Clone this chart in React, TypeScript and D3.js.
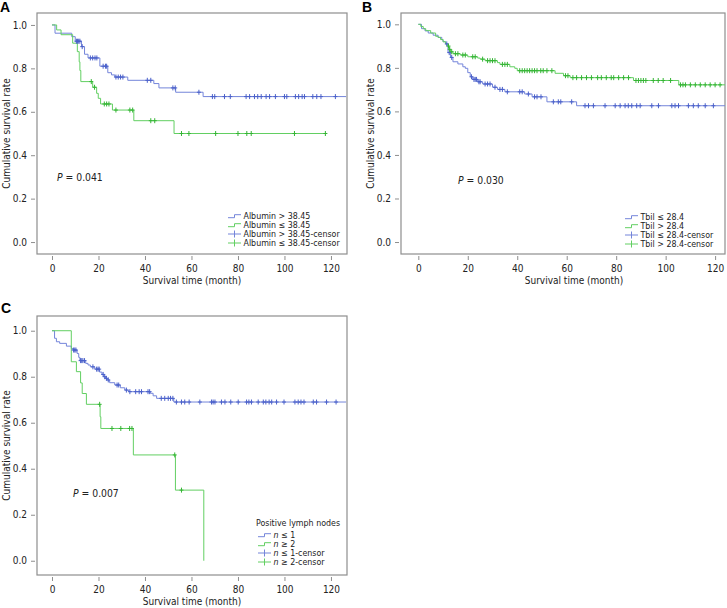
import { useRef, useEffect } from "react";
import * as d3 from "d3";

type Step = [number, number];

const X_TICKS = [0, 20, 40, 60, 80, 100, 120];
const Y_TICKS = [0, 0.2, 0.4, 0.6, 0.8, 1.0];

// Panel A - albumin
const albuminHighSteps: Step[] = [
  [0, 1], [1.3, 0.962], [8.5, 0.946], [10, 0.925], [12.7, 0.9], [14, 0.865], [15.5, 0.848],
  [20.6, 0.81], [24, 0.78], [25.6, 0.77], [27, 0.76], [32.6, 0.745], [43.8, 0.73], [46, 0.71],
  [53.2, 0.69], [65, 0.67],
];
const albuminHighEnd = 126.5;
const albuminHighCensor = [
  10.5, 11, 11.5, 12, 13, 16.5, 17.5, 18.5, 19.3, 22, 23, 23.5, 27.5, 28.5, 29.5, 30.5, 41, 42.5,
  52, 53, 63.2, 69, 70, 74.2, 76.7, 83.5, 85, 87.1, 88.5, 90, 92.1, 93.6, 96.1, 100, 101, 104.7,
  106.1, 107.6, 108.6, 112.2, 113.9, 115.7, 121.9,
];
const albuminLowSteps: Step[] = [
  [0, 1], [2, 0.977], [3.9, 0.955], [8.9, 0.916], [10.9, 0.877], [11.7, 0.83], [12, 0.79],
  [12.4, 0.739], [17.5, 0.713], [19.2, 0.685], [19.9, 0.662], [20.9, 0.636], [26, 0.608],
  [35.2, 0.559], [52.5, 0.5],
];
const albuminLowEnd = 118;
const albuminLowCensor = [
  16.9, 18.3, 22.5, 23.5, 24.5, 27.5, 33.5, 34.7, 42.5, 44.2, 55.7, 58.9, 70.4, 80, 83.8, 85.7,
  104.3, 117.6,
];

// Panel B - Tbil
const tbilLowSteps: Step[] = [
  [0, 1], [1.3, 0.98], [2.7, 0.97], [4, 0.96], [6, 0.95], [8, 0.94], [9.5, 0.93], [10, 0.92],
  [11, 0.91], [12, 0.87], [13, 0.848], [14, 0.828], [16, 0.818], [18, 0.805], [19, 0.798],
  [20, 0.778], [21, 0.759], [22, 0.747], [24, 0.736], [26, 0.726], [30, 0.711], [32, 0.701],
  [35, 0.69], [43, 0.68], [46, 0.667], [52, 0.644], [64, 0.626],
];
const tbilLowEnd = 124;
const tbilLowCensor = [
  11.5, 12.5, 13.5, 21.5, 22.5, 23, 23.5, 24.5, 25, 27, 28, 29, 31, 33, 34, 36, 41, 42, 44.5, 47,
  48, 49.6, 54.6, 56.6, 57.6, 62, 67.4, 68.8, 70.8, 75.5, 79.6, 81.6, 83.6, 84.9, 86.3, 88.3,
  89.7, 94.4, 97.1, 102.5, 103.8, 105.2, 109.2, 111.2, 113.2, 116, 119.3,
];
const tbilHighSteps: Step[] = [
  [0, 1], [1, 0.99], [2, 0.98], [3, 0.971], [5, 0.96], [7, 0.945], [8, 0.94], [9, 0.93],
  [10, 0.92], [11, 0.91], [12, 0.9], [12.5, 0.885], [13, 0.874], [14, 0.865], [17, 0.859],
  [20, 0.851], [24, 0.845], [25, 0.84], [27, 0.833], [32, 0.824], [33, 0.816], [37, 0.805],
  [39, 0.798], [40, 0.787], [55.3, 0.775], [58.7, 0.764], [61.4, 0.755], [87, 0.742],
  [105.3, 0.722],
];
const tbilHighEnd = 124;
const tbilHighCensor = [
  12.2, 12.7, 13.5, 15, 16, 18, 19, 22, 23, 26, 28, 29, 30, 31, 34, 35, 36, 41, 42, 43, 44, 45,
  46, 47, 48, 49.5, 50.5, 52, 54, 59.5, 60.5, 62.5, 64, 66, 68, 70, 72.5, 74, 76, 78, 79, 81,
  83, 85, 88, 89, 90, 91, 92, 95, 97, 99, 102, 106, 107, 108, 110, 112, 114, 116, 118, 120, 122,
];

// Panel C - positive lymph nodes
const nodesLowSteps: Step[] = [
  [0, 1], [1.1, 0.967], [1.9, 0.952], [3.3, 0.945], [6.2, 0.933], [8.3, 0.923], [9, 0.916],
  [10.8, 0.901], [11.5, 0.884], [12, 0.87], [14.5, 0.858], [15.5, 0.851], [16.5, 0.843],
  [18.4, 0.833], [20.5, 0.82], [21.5, 0.81], [22.3, 0.8], [23, 0.793], [23.7, 0.786],
  [24.8, 0.774], [27, 0.764], [29.4, 0.752], [31.3, 0.742], [33, 0.735], [42.3, 0.728],
  [43.5, 0.717], [45, 0.706], [52.4, 0.69],
];
const nodesLowEnd = 126.5;
const nodesLowCensor = [
  9.3, 9.8, 10.3, 12.3, 12.8, 13.3, 14, 17.6, 19.2, 19.8, 20.3, 22, 22.7, 23.4, 24.2, 28, 28.7,
  32, 33.5, 36, 37.5, 38.5, 41.3, 42, 47, 48.5, 50, 51, 52, 53.5, 55.7, 57.1, 59, 63.6, 68.6,
  69.3, 70.1, 72.9, 74.4, 76.9, 80.1, 83.7, 84.7, 85.8, 88.7, 90.9, 92, 93.4, 94.5, 96.6, 99.8,
  104.5, 105.9, 107.1, 108.4, 112.4, 113.8, 118.1, 122.2,
];
const nodesHighSteps: Step[] = [
  [0, 1], [8.3, 0.865], [10.5, 0.822], [12.3, 0.773], [13, 0.727], [14.8, 0.68], [20.7, 0.626],
  [21, 0.575], [35, 0.46], [53.1, 0.307], [65.3, 0],
];
const nodesHighEnd = 65.3;
const nodesHighCensor = [20.5, 25.8, 29.6, 33.4, 34.4, 52.8, 55.7];

const BLUE_LINE = "#7485da";
const BLUE_MARK = "#4a60ca";
const GREEN_LINE = "#62cf62";
const GREEN_MARK = "#35b535";
const FRAME = "#8e8e8e";
const FONT = "'DejaVu Sans Condensed', 'DejaVu Sans', Verdana, sans-serif";

interface Curve {
  steps: Step[];
  end: number;
  censor: number[];
  line: string;
  mark: string;
}

interface LegendItem {
  kind: "step" | "censor";
  color: string;
  parts: { t: string; italic?: boolean }[];
}

interface PanelCfg {
  letter: string;
  letterX: number;
  letterY: number;
  left: number;
  right: number;
  top: number;
  bottom: number;
  xDomain: [number, number];
  yDomain: [number, number];
  xTitleX: number;
  yTitleX: number;
  pX: number;
  pY: number;
  pText: string;
  curves: Curve[];
  legendX: number;
  legendY: number;
  legendTitle?: string;
  legend: LegendItem[];
}

const survAt = (steps: Step[], t: number) => {
  let s = 1;
  for (const [tt, v] of steps) if (tt <= t) s = v;
  return s;
};

const PANELS: PanelCfg[] = [
  {
    letter: "A", letterX: 0, letterY: 12,
    left: 37, right: 347, top: 13, bottom: 254,
    xDomain: [-6.45, 126.9], yDomain: [-0.055, 1.055],
    xTitleX: 192, yTitleX: 9.5,
    pX: 57, pY: 181, pText: "0.041",
    curves: [
      { steps: albuminHighSteps, end: albuminHighEnd, censor: albuminHighCensor, line: BLUE_LINE, mark: BLUE_MARK },
      { steps: albuminLowSteps, end: albuminLowEnd, censor: albuminLowCensor, line: GREEN_LINE, mark: GREEN_MARK },
    ],
    legendX: 228, legendY: 216,
    legend: [
      { kind: "step", color: BLUE_LINE, parts: [{ t: "Albumin > 38.45" }] },
      { kind: "step", color: GREEN_LINE, parts: [{ t: "Albumin ≤ 38.45" }] },
      { kind: "censor", color: BLUE_LINE, parts: [{ t: "Albumin > 38.45-censor" }] },
      { kind: "censor", color: GREEN_LINE, parts: [{ t: "Albumin ≤ 38.45-censor" }] },
    ],
  },
  {
    letter: "B", letterX: 362, letterY: 12,
    left: 401, right: 725, top: 13, bottom: 254,
    xDomain: [-7.0, 124.0], yDomain: [-0.055, 1.052],
    xTitleX: 574, yTitleX: 374,
    pX: 458, pY: 184, pText: "0.030",
    curves: [
      { steps: tbilLowSteps, end: tbilLowEnd, censor: tbilLowCensor, line: BLUE_LINE, mark: BLUE_MARK },
      { steps: tbilHighSteps, end: tbilHighEnd, censor: tbilHighCensor, line: GREEN_LINE, mark: GREEN_MARK },
    ],
    legendX: 625, legendY: 217,
    legend: [
      { kind: "step", color: BLUE_LINE, parts: [{ t: "Tbil ≤ 28.4" }] },
      { kind: "step", color: GREEN_LINE, parts: [{ t: "Tbil > 28.4" }] },
      { kind: "censor", color: BLUE_LINE, parts: [{ t: "Tbil ≤ 28.4-censor" }] },
      { kind: "censor", color: GREEN_LINE, parts: [{ t: "Tbil > 28.4-censor" }] },
    ],
  },
  {
    letter: "C", letterX: 1, letterY: 313,
    left: 37, right: 347, top: 316, bottom: 575,
    xDomain: [-6.45, 126.9], yDomain: [-0.062, 1.064],
    xTitleX: 192, yTitleX: 9.5,
    pX: 73, pY: 497, pText: "0.007",
    curves: [
      { steps: nodesLowSteps, end: nodesLowEnd, censor: nodesLowCensor, line: BLUE_LINE, mark: BLUE_MARK },
      { steps: nodesHighSteps, end: nodesHighEnd, censor: nodesHighCensor, line: GREEN_LINE, mark: GREEN_MARK },
    ],
    legendX: 258, legendY: 535, legendTitle: "Positive lymph nodes",
    legend: [
      { kind: "step", color: BLUE_LINE, parts: [{ t: "n", italic: true }, { t: " ≤ 1" }] },
      { kind: "step", color: GREEN_LINE, parts: [{ t: "n", italic: true }, { t: " ≥ 2" }] },
      { kind: "censor", color: BLUE_LINE, parts: [{ t: "n", italic: true }, { t: " ≤ 1-censor" }] },
      { kind: "censor", color: GREEN_LINE, parts: [{ t: "n", italic: true }, { t: " ≥ 2-censor" }] },
    ],
  },
];

function drawPanel(svg: d3.Selection<SVGSVGElement, unknown, null, undefined>, p: PanelCfg) {
  const x = d3.scaleLinear().domain(p.xDomain).range([p.left, p.right]);
  const y = d3.scaleLinear().domain(p.yDomain).range([p.bottom, p.top]);
  const g = svg.append("g");

  g.append("rect")
    .attr("x", p.left).attr("y", p.top)
    .attr("width", p.right - p.left).attr("height", p.bottom - p.top)
    .attr("fill", "none").attr("stroke", FRAME).attr("stroke-width", 1.2);

  const xa = g.append("g")
    .attr("transform", `translate(0,${p.bottom + 2})`)
    .call(d3.axisBottom(x).tickValues(X_TICKS).tickSize(4).tickPadding(4.5).tickFormat(d3.format("d")));
  const ya = g.append("g")
    .attr("transform", `translate(${p.left - 2},0)`)
    .call(d3.axisLeft(y).tickValues(Y_TICKS).tickSize(4).tickPadding(4).tickFormat(d3.format(".1f")));
  [xa, ya].forEach((a) => {
    a.select(".domain").remove();
    a.selectAll(".tick line").attr("stroke", FRAME);
    a.selectAll("text").attr("fill", "#222").attr("font-size", 10).attr("font-family", FONT);
  });

  g.append("text")
    .attr("x", p.xTitleX).attr("y", p.bottom + 30)
    .attr("text-anchor", "middle").attr("font-size", 10).attr("font-family", FONT).attr("fill", "#222")
    .text("Survival time (month)");
  g.append("text")
    .attr("transform", `translate(${p.yTitleX},${(p.top + p.bottom) / 2}) rotate(-90)`)
    .attr("text-anchor", "middle").attr("font-size", 10).attr("font-family", FONT).attr("fill", "#222")
    .text("Cumulative survival rate");

  g.append("text")
    .attr("x", p.letterX).attr("y", p.letterY)
    .attr("font-size", 14).attr("font-weight", "bold").attr("font-family", "'Liberation Sans', Arial, sans-serif")
    .text(p.letter);

  const pt = g.append("text")
    .attr("x", p.pX).attr("y", p.pY)
    .attr("font-size", 10.3).attr("font-family", FONT).attr("fill", "#222");
  pt.append("tspan").attr("font-style", "italic").text("P");
  pt.append("tspan").text(` = ${p.pText}`);

  const line = d3.line<Step>().x((d) => x(d[0])).y((d) => y(d[1])).curve(d3.curveStepAfter);
  p.curves.forEach((c) => {
    const last = c.steps[c.steps.length - 1];
    const pts: Step[] = [...c.steps, [c.end, last[1]]];
    g.append("path").datum(pts).attr("d", line)
      .attr("fill", "none").attr("stroke", c.line).attr("stroke-width", 1);
  });
  p.curves.forEach((c) => {
    g.append("g").selectAll("path")
      .data(c.censor)
      .join("path")
      .attr("d", (t) => {
        const cx = x(t), cy = y(survAt(c.steps, t));
        return `M${cx - 2},${cy}H${cx + 2}M${cx},${cy - 2.5}V${cy + 2.5}`;
      })
      .attr("stroke", c.mark).attr("stroke-width", 1).attr("fill", "none");
  });

  // legend
  const lg = g.append("g");
  const rowH = 9;
  if (p.legendTitle) {
    lg.append("text")
      .attr("x", p.legendX - 2).attr("y", p.legendY - 12.3 + 3.2)
      .attr("font-size", 8.8).attr("font-family", FONT).attr("fill", "#222")
      .text(p.legendTitle);
  }
  p.legend.forEach((item, i) => {
    const cy = p.legendY + i * rowH;
    const x0 = p.legendX, x1 = p.legendX + 13;
    const xm = (x0 + x1) / 2;
    if (item.kind === "step") {
      lg.append("path")
        .attr("d", `M${x0},${cy + 1.7}H${xm}V${cy - 1.3}H${x1}`)
        .attr("fill", "none").attr("stroke", item.color).attr("stroke-width", 1);
    } else {
      lg.append("path")
        .attr("d", `M${x0},${cy}H${x1}M${xm},${cy - 3.5}V${cy + 3.5}`)
        .attr("fill", "none").attr("stroke", item.color).attr("stroke-width", 1);
    }
    const t = lg.append("text")
      .attr("x", x1 + 2.5).attr("y", cy + 3.2)
      .attr("font-size", 8.8).attr("font-family", FONT).attr("fill", "#222");
    item.parts.forEach((part) => {
      t.append("tspan").attr("font-style", part.italic ? "italic" : "normal").text(part.t);
    });
  });
}

export default function App() {
  const svgRef = useRef<SVGSVGElement>(null);

  useEffect(() => {
    if (!svgRef.current) return;
    const svg = d3.select(svgRef.current);
    svg.selectAll("*").remove();
    PANELS.forEach((p) => drawPanel(svg, p));
  }, []);

  return (
    <svg
      ref={svgRef}
      width={727}
      height={608}
      style={{ position: "absolute", left: 0, top: 0, background: "#fff", display: "block" }}
    />
  );
}
